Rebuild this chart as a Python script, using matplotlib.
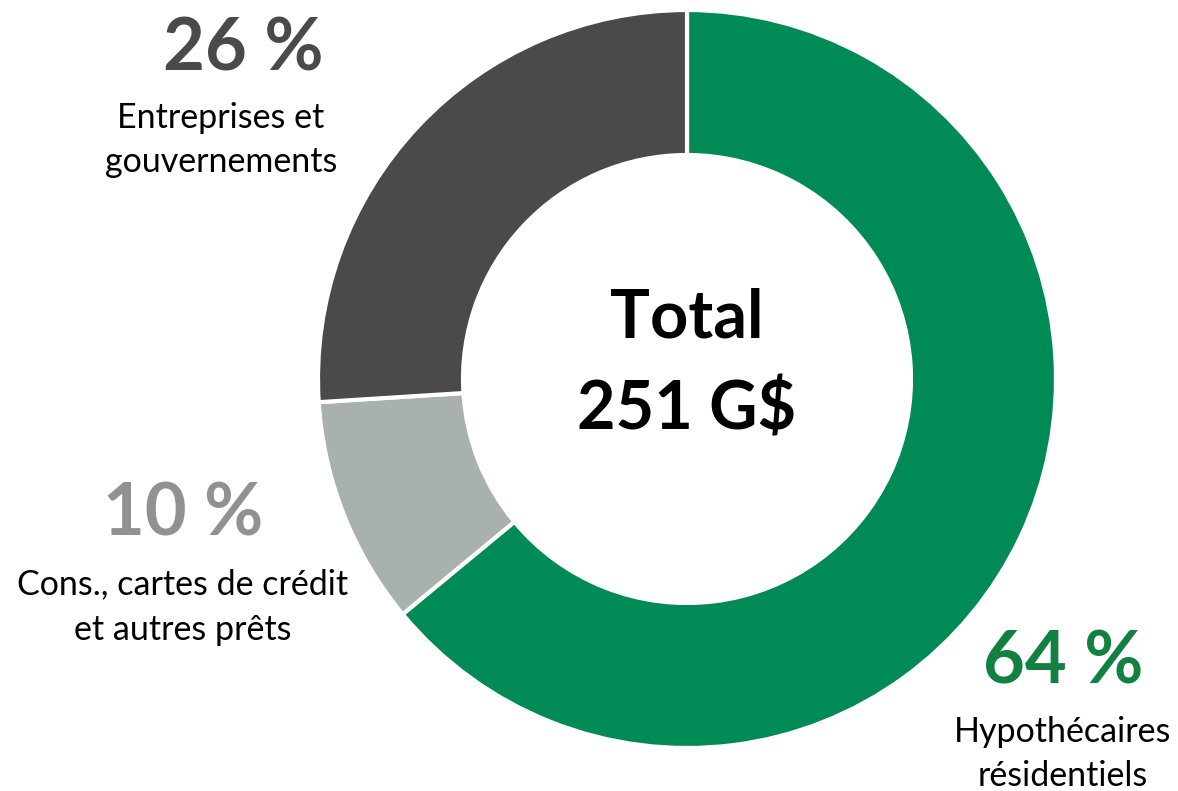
import matplotlib.pyplot as plt

plt.rcParams['font.family'] = ['Lato', 'DejaVu Sans']

# Données
categories = ['Hypothécaires\nrésidentiels', 'Cons., cartes de crédit\net autres prêts',
              'Entreprises et\ngouvernements']
shares = [64, 10, 26]
slice_colors = ['#008a55', '#a9b1ae', '#4a4a4a']
label_colors = ['#128040', '#919191', '#4a4a4a']
total_text = 'Total\n251 G$'

fig = plt.figure(figsize=(11.78, 7.91), dpi=100)
ax = fig.add_axes([0, 0, 1, 1])

H = 791
cx, cy = 687, H - 379
r_out, r_in = 369, 224

ax.pie(shares, colors=slice_colors, startangle=90, counterclock=False,
       center=(cx, cy), radius=r_out,
       wedgeprops=dict(width=r_out - r_in, edgecolor='white', linewidth=3))

ax.text(cx, H - 364, total_text, ha='center', va='center', fontsize=48,
        fontweight='bold', linespacing=1.6)

# positions des étiquettes (pixels)
pct_pos = [(1063, 663), (183, 515), (243, 50)]
lab_pos = [(1063, 754), (183, 607), (221, 140)]
for cat, val, col, (px, py), (lx, ly) in zip(categories, shares, label_colors, pct_pos, lab_pos):
    ax.text(px, H - py, f'{val} %', ha='center', va='center', fontsize=52,
            fontweight='bold', color=col)
    ax.text(lx, H - ly, cat, ha='center', va='center', fontsize=24.5,
            color='black', linespacing=1.5)

ax.set_xlim(0, 1178)
ax.set_ylim(0, H)
ax.set_aspect('equal')
ax.axis('off')

fig.savefig('out.png', dpi=100)
